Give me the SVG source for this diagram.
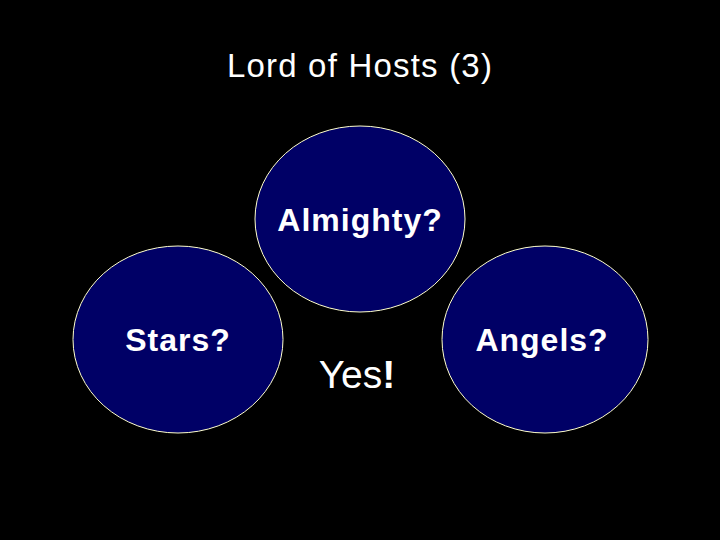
<svg xmlns="http://www.w3.org/2000/svg" width="720" height="540" viewBox="0 0 720 540">
<style>
.node ellipse{fill:#000066;stroke:#ffffcc;stroke-width:1}
.lbl{font-family:"Liberation Sans",Arial,sans-serif;font-weight:bold;font-size:32px;fill:#ffffff;text-anchor:middle;letter-spacing:1px}
.t{font-family:"Liberation Sans",Arial,sans-serif;fill:#ffffff;text-anchor:middle}
</style>
<rect x="0" y="0" width="720" height="540" fill="#000000"/>
<text class="t" x="360" y="77" font-size="33" letter-spacing="1.2">Lord of Hosts (3)</text>
<g id="connectors"></g>
<g id="almighty" class="node">
<ellipse cx="360" cy="219" rx="105" ry="93"/>
<text class="lbl" x="360" y="231">Almighty?</text>
</g>
<g id="stars" class="node">
<ellipse cx="178" cy="339.5" rx="105" ry="93.5"/>
<text class="lbl" x="178" y="351">Stars?</text>
</g>
<g id="angels" class="node">
<ellipse cx="545" cy="339.5" rx="103" ry="93.5"/>
<text class="lbl" x="542" y="351" letter-spacing="1.5">Angels?</text>
</g>
<g id="yes">
<text class="t" x="357" y="388" font-size="39">Yes<tspan font-weight="bold">!</tspan></text>
</g>
</svg>
